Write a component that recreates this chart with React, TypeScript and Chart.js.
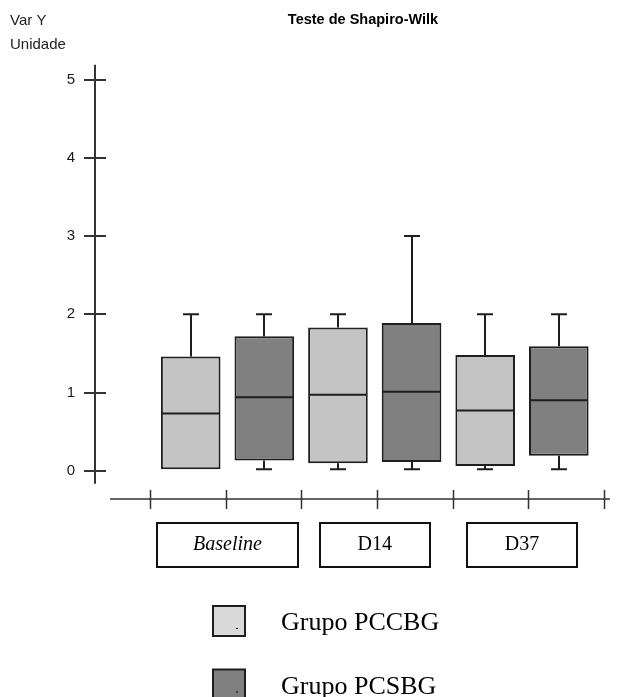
import React, { useEffect, useRef } from 'react';
import { Chart, registerables } from 'chart.js';

Chart.register(...registerables);

// ---------- data ----------
const categories = ['Baseline', 'D14', 'D37'];
const seriesNames = ['Grupo PCCBG', 'Grupo PCSBG'];

const pccbgMin = [0.02, 0.02, 0.02];
const pccbgQ1 = [0.02, 0.095, 0.06];
const pccbgMedian = [0.73, 0.97, 0.77];
const pccbgQ3 = [1.46, 1.83, 1.48];
const pccbgMax = [2, 2, 2];

const pcsbgMin = [0.02, 0.02, 0.02];
const pcsbgQ1 = [0.13, 0.11, 0.19];
const pcsbgMedian = [0.94, 1.01, 0.9];
const pcsbgQ3 = [1.72, 1.89, 1.59];
const pcsbgMax = [2, 3, 2];

const yTicks = [0, 1, 2, 3, 4, 5];

const titleText = 'Teste de Shapiro-Wilk';
const yUnitLines = ['Var Y', 'Unidade'];

// ---------- styles ----------
const boxFills = ['#c4c4c4', '#808080'];
const legendFills = ['#d9d9d9', '#808080'];
const edgeColor = '#1e1e1e';
const axisColor = '#333333';

const stats = [
  { min: pccbgMin, q1: pccbgQ1, median: pccbgMedian, q3: pccbgQ3, max: pccbgMax },
  { min: pcsbgMin, q1: pcsbgQ1, median: pcsbgMedian, q3: pcsbgQ3, max: pcsbgMax },
];

const TITLE_CENTER_X = 363;

const decorPlugin = {
  id: 'decor',
  afterLayout(chart: any) {
    const t = chart.titleBlock;
    if (t) {
      t.left = 2 * TITLE_CENTER_X - t.right;
      t.width = t.right - t.left;
    }
  },
  afterDatasetsDraw(chart: any) {
    const ctx = chart.ctx;
    const y = chart.scales.y;
    ctx.save();
    ctx.strokeStyle = edgeColor;
    ctx.lineWidth = 2;
    stats.forEach((s, d) => {
      const meta = chart.getDatasetMeta(d);
      meta.data.forEach((el: any, i: number) => {
        const cx = Math.round(el.x);
        const half = el.width / 2;
        const yMed = y.getPixelForValue(s.median[i]);
        const yQ1 = y.getPixelForValue(s.q1[i]);
        const yQ3 = y.getPixelForValue(s.q3[i]);
        const yMin = y.getPixelForValue(s.min[i]);
        const yMax = y.getPixelForValue(s.max[i]);
        ctx.beginPath();
        ctx.moveTo(el.x - half + 1, yMed);
        ctx.lineTo(el.x + half - 1, yMed);
        // upper whisker
        ctx.moveTo(cx, yQ3);
        ctx.lineTo(cx, yMax);
        ctx.moveTo(cx - 8, yMax);
        ctx.lineTo(cx + 8, yMax);
        // lower whisker
        if (yMin - yQ1 > 0.5) {
          ctx.moveTo(cx, yQ1);
          ctx.lineTo(cx, yMin);
          ctx.moveTo(cx - 8, yMin);
          ctx.lineTo(cx + 8, yMin);
        }
        ctx.stroke();
      });
    });
    ctx.restore();
  },
  afterDraw(chart: any) {
    const ctx = chart.ctx;
    const y = chart.scales.y;
    const x = chart.scales.x;
    ctx.save();

    // vertical axis (detached from the plot area)
    const axisX = 95;
    ctx.strokeStyle = axisColor;
    ctx.lineWidth = 2;
    ctx.beginPath();
    ctx.moveTo(axisX, y.getPixelForValue(yTicks[yTicks.length - 1]) - 15);
    ctx.lineTo(axisX, y.getPixelForValue(yTicks[0]) + 13);
    yTicks.forEach((v) => {
      const py = Math.round(y.getPixelForValue(v));
      ctx.moveTo(axisX - 11, py);
      ctx.lineTo(axisX + 11, py);
    });
    ctx.stroke();

    // horizontal axis line with ticks
    const axisY = 499;
    ctx.lineWidth = 1.5;
    ctx.beginPath();
    ctx.moveTo(110, axisY);
    ctx.lineTo(610, axisY);
    for (let k = 0; k < 7; k++) {
      const px = Math.round(150 + k * 75.67) + 0.5;
      ctx.moveTo(px, axisY - 9);
      ctx.lineTo(px, axisY + 10);
    }
    ctx.stroke();

    // frames around the category labels
    ctx.strokeStyle = '#111111';
    ctx.lineWidth = 2;
    x.ticks.forEach((_: any, i: number) => {
      const px = x.getPixelForTick(i);
      ctx.font = `${i === 0 ? 'italic ' : ''}20px "Liberation Serif"`;
      const w = Math.max(ctx.measureText(categories[i]).width + 72, 110);
      ctx.strokeRect(Math.round(px - w / 2), 523, Math.round(w), 44);
    });

    // y unit text (top-left)
    ctx.fillStyle = '#222222';
    ctx.font = '15px "Liberation Sans"';
    ctx.textAlign = 'left';
    ctx.textBaseline = 'alphabetic';
    ctx.fillText(yUnitLines[0], 10, 25);
    ctx.fillText(yUnitLines[1], 10, 49);

    // legend
    seriesNames.forEach((name, s) => {
      const top = 606 + s * 63.5;
      ctx.fillStyle = legendFills[s];
      ctx.fillRect(213, top, 32, 30);
      ctx.strokeStyle = edgeColor;
      ctx.lineWidth = 2;
      ctx.strokeRect(213, top, 32, 30);
      ctx.fillStyle = '#000000';
      ctx.fillRect(236, top + 22, 2, 1);
      ctx.font = '26px "Liberation Serif"';
      ctx.fillStyle = '#000000';
      ctx.fillText(name, 281, top + 24);
    });

    ctx.restore();
  },
};

export default function App() {
  const ref = useRef<HTMLCanvasElement>(null);

  useEffect(() => {
    const canvas = ref.current;
    if (!canvas) return;
    const chart = new Chart(canvas, {
      type: 'bar',
      data: {
        labels: categories,
        datasets: seriesNames.map((name, d) => ({
          label: name,
          data: categories.map((_, i) => [stats[d].q1[i], stats[d].q3[i]]),
          backgroundColor: boxFills[d],
          borderColor: edgeColor,
          borderWidth: 2,
          borderSkipped: false,
          categoryPercentage: 1,
          barPercentage: 0.81,
        })),
      },
      options: {
        responsive: false,
        devicePixelRatio: 1,
        animation: false,
        layout: { padding: { left: 66.7, right: 36.4, top: 0, bottom: 126.3 } },
        plugins: {
          legend: { display: false },
          tooltip: { enabled: false },
          title: {
            display: true,
            text: titleText,
            color: '#000000',
            font: { family: 'Liberation Sans', size: 14.5, weight: 'bold', lineHeight: 1.2 },
            padding: { top: 11.3, bottom: 51 },
          },
        },
        scales: {
          x: {
            type: 'category',
            offset: true,
            grid: { display: false, drawTicks: false },
            border: { display: false },
            ticks: {
              padding: 62.3,
              color: '#000000',
              autoSkip: false,
              maxRotation: 0,
              font: (c: any) => ({
                family: 'Liberation Serif',
                size: 20,
                style: c.index === 0 ? 'italic' : 'normal',
              }),
            },
            afterFit: (s: any) => {
              s.height = 100;
            },
          },
          y: {
            type: 'linear',
            min: 0,
            max: 5,
            grid: { display: false, drawTicks: false },
            border: { display: false },
            afterBuildTicks: (s: any) => {
              s.ticks = yTicks.map((v) => ({ value: v }));
            },
            ticks: {
              padding: 0,
              crossAlign: 'far',
              color: '#1a1a1a',
              font: { family: 'Liberation Sans', size: 15 },
              callback: (v: any) => String(v),
            },
            afterFit: (s: any) => {
              s.width = 87.2;
            },
          },
        },
      },
      plugins: [decorPlugin],
    } as any);
    return () => chart.destroy();
  }, []);

  return (
    <div style={{ position: 'absolute', left: 0, top: 0, width: 632, height: 697, background: '#ffffff' }}>
      <canvas ref={ref} width={632} height={697} style={{ display: 'block', width: 632, height: 697 }} />
    </div>
  );
}
